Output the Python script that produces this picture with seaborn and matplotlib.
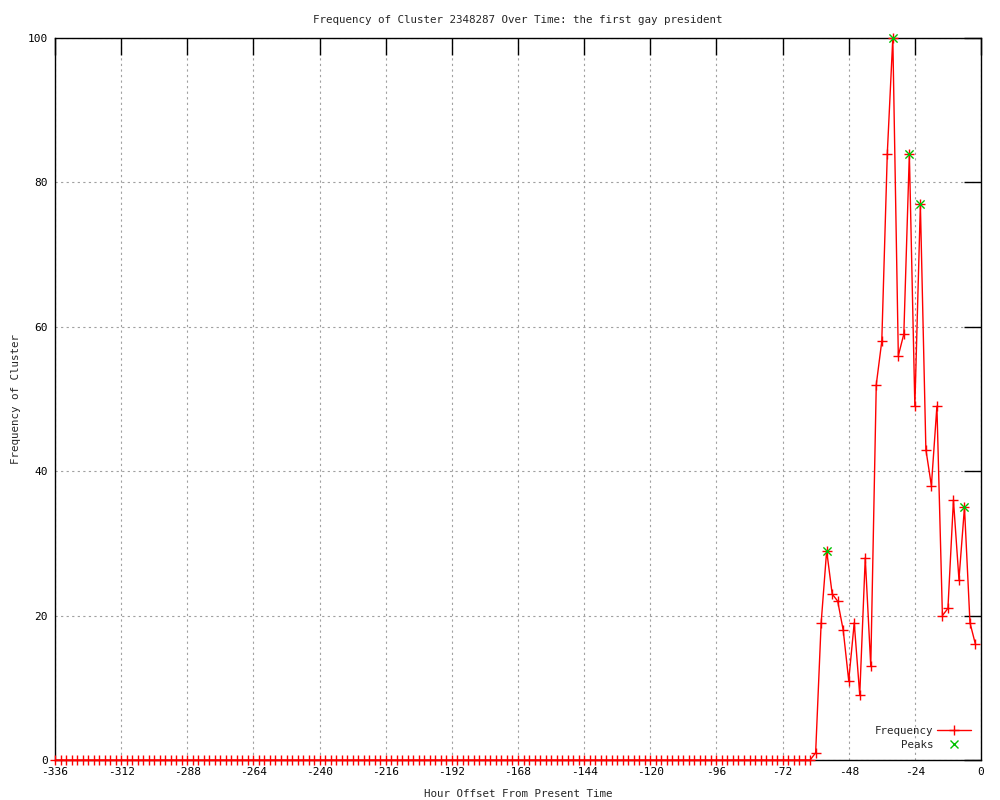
import numpy as np
import pandas as pd
import matplotlib
matplotlib.use("Agg")
import matplotlib.pyplot as plt
import seaborn as sns
from matplotlib.lines import Line2D

# ---- data ----
hours = list(range(-336, 0, 2))
active_values = [1, 19, 29, 23, 22, 18, 11, 19, 9, 28, 13, 52, 58, 84, 100,
                 56, 59, 84, 49, 77, 43, 38, 49, 20, 21, 36, 25, 35, 19, 16]
frequency = [0] * (len(hours) - len(active_values)) + active_values
peak_hours = [-56, -32, -26, -22, -6]
peak_values = [29, 100, 84, 77, 35]
x_ticks = list(range(-336, 1, 24))
y_ticks = list(range(0, 101, 20))

title = "Frequency of Cluster 2348287 Over Time: the first gay president"
x_label = "Hour Offset From Present Time"
y_label = "Frequency of Cluster"

sns.set_style("white")
plt.rcParams["font.family"] = ["DejaVu Sans Mono"]
plt.rcParams["axes.unicode_minus"] = False

df = pd.DataFrame({"hour": hours, "freq": frequency})
pk = pd.DataFrame({"hour": peak_hours, "freq": peak_values})

fig = plt.figure(figsize=(10, 8), dpi=100)
ax = fig.add_axes([0.055, 0.05, 0.926, 0.9025])

sns.lineplot(data=df, x="hour", y="freq", ax=ax, color="red", linewidth=1.0,
             zorder=3, legend=False)
sns.scatterplot(data=df, x="hour", y="freq", ax=ax, color="red", marker="+",
                s=55, linewidth=1.0, zorder=3, legend=False, clip_on=False)
sns.scatterplot(data=pk, x="hour", y="freq", ax=ax, color="#00c000", marker="x",
                s=35, linewidth=1.0, zorder=4, legend=False, clip_on=False)

ax.set_xlim(-336, 0)
ax.set_ylim(0, 100)
ax.set_xticks(x_ticks)
ax.set_yticks(y_ticks)
ax.set_xticklabels([str(t) for t in x_ticks])
ax.set_yticklabels([str(t) for t in y_ticks])
ax.tick_params(direction="in", length=12, width=1, top=True, right=True,
               labelsize=8, colors="black", pad=5)
ax.grid(True, linestyle=(0, (2, 3)), color="#a0a0a0", linewidth=0.8)
for s in ax.spines.values():
    s.set_color("black")
    s.set_linewidth(1)

ax.set_title(title, fontsize=7.8, pad=11)
ax.set_xlabel(x_label, fontsize=7.8, labelpad=9)
ax.set_ylabel(y_label, fontsize=7.8, labelpad=5)

handles = [
    Line2D([], [], color="red", linewidth=1.0, marker="+", markersize=7,
           markeredgewidth=1.0),
    Line2D([], [], color="#00c000", linestyle="none", marker="x", markersize=6,
           markeredgewidth=1.0),
]
leg = ax.legend(handles, ["Frequency", "Peaks"], loc="lower right", frameon=False,
                markerfirst=False, fontsize=7.8, handlelength=3.2,
                borderaxespad=0.5, labelspacing=0.4, handletextpad=0.3)
for t in leg.get_texts():
    t.set_ha("right")

fig.savefig("out.png", dpi=100)
